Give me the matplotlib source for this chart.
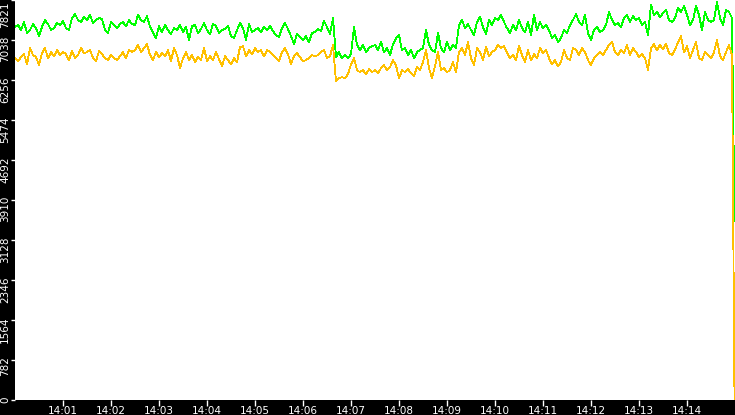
import matplotlib
matplotlib.use("Agg")
import matplotlib.pyplot as plt
import matplotlib.transforms as mtransforms
import pandas as pd

# one sample every 3.75 s, 14:00:00 -> 14:14:56, then a final sample at 14:14:59.4
green = [
    7292, 7331, 7233, 7390, 7174, 7233, 7351, 7272, 7115, 7292,
    7429, 7351, 7233, 7272, 7370, 7331, 7409, 7272, 7233, 7468,
    7547, 7429, 7390, 7488, 7429, 7527, 7370, 7429, 7468, 7449,
    7233, 7174, 7390, 7331, 7272, 7351, 7390, 7311, 7429, 7351,
    7331, 7527, 7429, 7390, 7507, 7292, 7194, 7076, 7311, 7194,
    7331, 7233, 7155, 7272, 7233, 7331, 7194, 7292, 7037, 7311,
    7331, 7174, 7253, 7370, 7233, 7155, 7351, 7311, 7174, 7233,
    7253, 7311, 7115, 7076, 7233, 7370, 7272, 7037, 7351, 7194,
    7233, 7272, 7194, 7292, 7233, 7311, 7213, 7135, 7096, 7272,
    7370, 7253, 7115, 6959, 7155, 7096, 7037, 7115, 6998, 7174,
    7194, 7253, 7213, 7409, 7292, 7155, 7468, 6704, 6802, 6684,
    6743, 6684, 6763, 7292, 6939, 6841, 6939, 6802, 6880, 6919,
    6939, 6841, 6998, 6802, 6880, 6743, 6959, 7076, 7135, 6841,
    6880, 6743, 6841, 6684, 6802, 6841, 6880, 7233, 6939, 6841,
    6802, 7174, 6880, 6802, 6998, 6841, 6939, 6880, 7331, 7429,
    7272, 7351, 7233, 7135, 7390, 7488, 7292, 7155, 7429, 7331,
    7468, 7429, 7527, 7390, 7272, 7174, 7331, 7233, 7429, 7272,
    7194, 7390, 7135, 7527, 7233, 7390, 7272, 7331, 7233, 7076,
    7135, 6998, 7076, 7233, 7174, 7331, 7429, 7547, 7390, 7331,
    7527, 7174, 7037, 7233, 7292, 7194, 7233, 7331, 7586, 7429,
    7331, 7370, 7292, 7468, 7527, 7390, 7507, 7429, 7468, 7331,
    7390, 7135, 7723, 7527, 7586, 7488, 7566, 7625, 7429, 7390,
    7468, 7664, 7586, 7703, 7527, 7331, 7429, 7703, 7527, 7233,
    7586, 7429, 7390, 7429, 7782, 7468, 7331, 7625, 7586, 7468,
    3500,
]
orange = [
    6684, 6625, 6704, 6763, 6567, 6880, 6743, 6704, 6547, 6782,
    6880, 6684, 6802, 6723, 6841, 6743, 6802, 6763, 6645, 6821,
    6684, 6743, 6880, 6782, 6802, 6841, 6684, 6625, 6821, 6763,
    6684, 6645, 6743, 6684, 6645, 6723, 6802, 6684, 6841, 6802,
    6841, 6939, 6802, 6880, 6959, 6743, 6645, 6802, 6704, 6782,
    6723, 6841, 6625, 6880, 6743, 6488, 6684, 6802, 6645, 6743,
    6606, 6704, 6645, 6880, 6625, 6723, 6645, 6802, 6665, 6527,
    6723, 6645, 6567, 6684, 6606, 6900, 6919, 6723, 6841, 6763,
    6880, 6802, 6841, 6723, 6841, 6802, 6743, 6684, 6625, 6802,
    6880, 6763, 6567, 6723, 6782, 6704, 6625, 6645, 6684, 6743,
    6723, 6743, 6802, 6841, 6684, 6723, 6939, 6234, 6292, 6312,
    6292, 6371, 6567, 6684, 6449, 6410, 6449, 6371, 6469, 6410,
    6449, 6390, 6488, 6547, 6449, 6508, 6645, 6547, 6292, 6449,
    6410, 6469, 6390, 6331, 6508, 6449, 6606, 6841, 6488, 6292,
    6527, 6802, 6449, 6488, 6410, 6449, 6606, 6410, 6802, 6880,
    6743, 6998, 6684, 6547, 6880, 6802, 6645, 6900, 6723, 6802,
    6841, 6939, 6880, 6919, 6802, 6684, 6743, 6645, 6919, 6743,
    6606, 6841, 6645, 6763, 6684, 6880, 6782, 6841, 6684, 6567,
    6645, 6527, 6606, 6841, 6684, 6645, 6880, 6841, 6743, 6880,
    6802, 6645, 6547, 6684, 6743, 6802, 6743, 6841, 6939, 6998,
    6802, 6743, 6841, 6782, 6939, 6743, 6880, 6802, 6704, 6763,
    6684, 6449, 6880, 6959, 6841, 6939, 6861, 6959, 6782, 6743,
    6841, 6998, 7115, 6802, 6919, 6684, 6841, 6998, 6684, 6645,
    6802, 6743, 6684, 6802, 7037, 6723, 6645, 6802, 6939, 6743,
    0,
]
yticks = [0, 782, 1564, 2346, 3128, 3910, 4692, 5474, 6256, 7038, 7821]
xtick_labels = ["14:01", "14:02", "14:03", "14:04", "14:05", "14:06", "14:07",
                "14:08", "14:09", "14:10", "14:11", "14:12", "14:13", "14:14"]

day = "2024-01-01 "
start = pd.Timestamp(day + "14:00:00")
end = pd.Timestamp(day + "14:15:00")
times = start + pd.to_timedelta([3.75 * i for i in range(len(green) - 1)] + [899.4], unit="s")

fig = plt.figure(figsize=(7.35, 4.15), dpi=100, facecolor="black")
ax = fig.add_axes([15 / 735, 15 / 415, 720 / 735, 400 / 415])
ax.set_facecolor("white")
for s in ax.spines.values():
    s.set_visible(False)

ax.plot(times, green, color="#00ff00", lw=0.6, antialiased=False, zorder=2)
ax.plot(times, orange, color="#ffc000", lw=0.6, antialiased=False, zorder=3)

ax.set_xlim(start, end)
ax.set_ylim(0, 7821)

ax.set_xticks([pd.Timestamp(day + t) for t in xtick_labels])
ax.set_xticklabels(xtick_labels, color="white", fontsize=7.5)
ax.set_yticks(yticks)
ax.set_yticklabels([str(v) for v in yticks], rotation=90, va="top", color="white", fontsize=7.5)
ax.tick_params(axis="x", direction="out", length=4, width=1, color="white", pad=0.5)
ax.tick_params(axis="y", direction="out", length=3, width=1, color="white", pad=0.5)

# nudge the rotated y labels up a little, so they hang just below their tick;
# the top one has no room above, so it is pushed down inside the figure
shift = mtransforms.ScaledTranslation(0, 4 / 100, fig.dpi_scale_trans)
top_shift = mtransforms.ScaledTranslation(0, -2 / 100, fig.dpi_scale_trans)
labels = ax.get_yticklabels()
for lab in labels[:-1]:
    lab.set_transform(lab.get_transform() + shift)
labels[-1].set_transform(labels[-1].get_transform() + top_shift)

fig.savefig("out.png", dpi=100, facecolor="black")
plt.close(fig)
